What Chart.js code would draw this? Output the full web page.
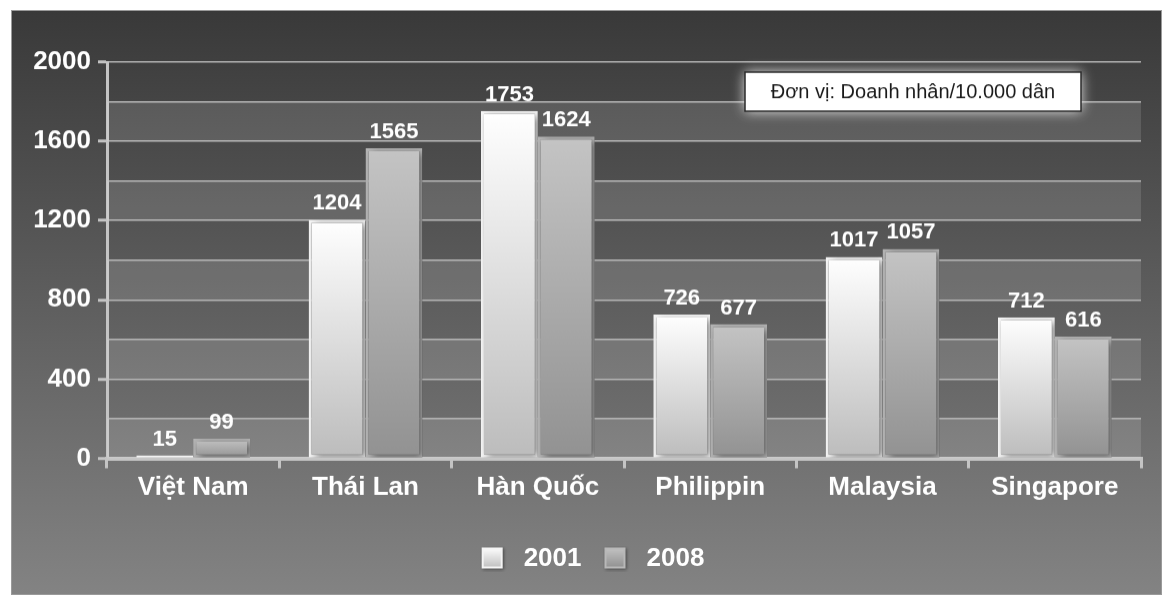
<!DOCTYPE html>
<html>
<head>
<meta charset="utf-8">
<script src="https://cdn.jsdelivr.net/npm/chart.js@4.4.1/dist/chart.umd.min.js"></script>
<style>
  body { margin: 0; background: #fff; }
  #wrap {
    position: absolute; left: 11px; top: 10px; width: 1151px; height: 585px;
    background: linear-gradient(#393939, #838383);
    box-shadow: inset 0 0 0 1px #9a9a9a;
  }
</style>
</head>
<body>
<div id="wrap"><canvas id="chart"></canvas></div>
<script>
const countries = ["Việt Nam", "Thái Lan", "Hàn Quốc", "Philippin", "Malaysia", "Singapore"];
const values2001 = [15, 1204, 1753, 726, 1017, 712];
const values2008 = [99, 1565, 1624, 677, 1057, 616];
const yearLabels = ["2001", "2008"];
const unitNote = "Đơn vị: Doanh nhân/10.000 dân";

const fontFamily = "'Liberation Sans', Arial, sans-serif";

// per-bar vertical gradient
const barGradient = (topColor, bottomColor) => (context) => {
  const chart = context.chart;
  const yScale = chart.scales.y;
  if (!yScale || !chart.chartArea) return topColor;
  const value = context.raw;
  const top = yScale.getPixelForValue(value);
  const base = yScale.getPixelForValue(0);
  if (!(base - top > 1)) return topColor;
  const grad = chart.ctx.createLinearGradient(0, top, 0, base);
  grad.addColorStop(0, topColor);
  grad.addColorStop(1, bottomColor);
  return grad;
};

// legend swatch: square on the left, empty room on the right for the gap
const makeSwatch = (topColor, bottomColor, border) => {
  const c = document.createElement("canvas");
  c.width = 31;
  c.height = 26;
  const g = c.getContext("2d");
  g.shadowColor = "rgba(0,0,0,0.45)";
  g.shadowBlur = 3;
  g.shadowOffsetX = 1;
  g.shadowOffsetY = 1;
  const grad = g.createLinearGradient(0, 2, 0, 23);
  grad.addColorStop(0, topColor);
  grad.addColorStop(1, bottomColor);
  g.fillStyle = grad;
  g.fillRect(2, 2, 21, 21);
  g.shadowColor = "transparent";
  g.strokeStyle = border;
  g.lineWidth = 2;
  g.strokeRect(3, 3, 19, 19);
  return c;
};

const swatches = [
  makeSwatch("#ffffff", "#bdbdbd", "#f4f4f4"),
  makeSwatch("#c4c4c4", "#8f8f8f", "#b8b8b8"),
];

const bandsPlugin = {
  id: "bands",
  beforeDatasetsDraw(chart) {
    const { ctx, chartArea, scales } = chart;
    ctx.save();
    ctx.fillStyle = "rgba(255,255,255,0.12)";
    for (let v = 0; v < 2000; v += 400) {
      const y1 = scales.y.getPixelForValue(v + 200);
      const y0 = scales.y.getPixelForValue(v);
      ctx.fillRect(chartArea.left, y1, chartArea.right - chartArea.left, y0 - y1);
    }
    ctx.restore();
  },
};

const shadowPlugin = {
  id: "barShadow",
  beforeDatasetsDraw(chart) {
    const ctx = chart.ctx;
    ctx.save();
    ctx.shadowColor = "rgba(0,0,0,0.5)";
    ctx.shadowBlur = 7;
    ctx.shadowOffsetX = 3;
    ctx.shadowOffsetY = 2;
  },
  afterDatasetsDraw(chart) {
    chart.ctx.restore();
  },
};

const valueLabels = {
  id: "valueLabels",
  afterDatasetsDraw(chart) {
    const ctx = chart.ctx;
    ctx.save();
    ctx.font = "bold 22px " + fontFamily;
    ctx.fillStyle = "#ffffff";
    ctx.textAlign = "center";
    ctx.textBaseline = "alphabetic";
    chart.data.datasets.forEach((ds, i) => {
      chart.getDatasetMeta(i).data.forEach((bar, j) => {
        ctx.fillText(ds.data[j], bar.x, bar.y - 10);
      });
    });
    ctx.restore();
  },
};

const notePlugin = {
  id: "note",
  afterDraw(chart) {
    const { ctx, chartArea } = chart;
    const w = 336, h = 39;
    const x = chartArea.right - 60 - w;
    const y = chartArea.top + 10;
    ctx.save();
    ctx.shadowColor = "rgba(255,255,255,0.9)";
    ctx.shadowBlur = 12;
    ctx.fillStyle = "#ffffff";
    ctx.fillRect(x, y, w, h);
    ctx.shadowColor = "transparent";
    ctx.strokeStyle = "#2a2a2a";
    ctx.lineWidth = 1.5;
    ctx.strokeRect(x, y, w, h);
    ctx.fillStyle = "#1a1a1a";
    ctx.font = "20px " + fontFamily;
    ctx.textAlign = "center";
    ctx.textBaseline = "middle";
    ctx.fillText(unitNote, x + w / 2, y + h / 2 + 1);
    ctx.restore();
  },
};

// nudge the legend a bit to the right, like the original
const legendShift = {
  id: "legendShift",
  afterLayout(chart) {
    chart.legend.left += 16;
    chart.legend.right += 16;
  },
};

const ctx = document.getElementById("chart");

const myChart = new Chart(ctx, {
  type: "bar",
  data: {
    labels: countries,
    datasets: [
      {
        label: yearLabels[0],
        data: values2001,
        backgroundColor: barGradient("#ffffff", "#bcbcbc"),
        borderColor: "#f6f6f6",
        borderWidth: 3,
        borderSkipped: false,
      },
      {
        label: yearLabels[1],
        data: values2008,
        backgroundColor: barGradient("#c4c4c4", "#929292"),
        borderColor: "#b4b4b4",
        borderWidth: 3,
        borderSkipped: false,
      },
    ],
  },
  options: {
    responsive: false,
    animation: false,
    devicePixelRatio: 1,
    layout: { padding: { top: 52, right: 21, left: 0, bottom: 5 } },
    datasets: { bar: { categoryPercentage: 0.66, barPercentage: 1 } },
    plugins: {
      tooltip: { enabled: false },
      legend: {
        position: "bottom",
        labels: {
          usePointStyle: true,
          pointStyleWidth: 31,
          boxHeight: 26,
          padding: 21,
          color: "#ffffff",
          font: { family: fontFamily, size: 26, weight: "bold" },
          generateLabels: (chart) =>
            chart.data.datasets.map((ds, i) => ({
              text: ds.label,
              pointStyle: swatches[i],
              datasetIndex: i,
              hidden: false,
              fontColor: "#ffffff",
              lineWidth: 0,
            })),
        },
      },
    },
    scales: {
      x: {
        afterFit: (scale) => { scale.height = 66; },
        border: { color: "#c4c4c4", width: 4 },
        grid: {
          offset: true,
          drawOnChartArea: false,
          color: "#c4c4c4",
          lineWidth: 3,
          tickLength: 10,
        },
        ticks: {
          color: "#ffffff",
          padding: 4,
          font: { family: fontFamily, size: 26, weight: "bold" },
        },
      },
      y: {
        min: 0,
        max: 2000,
        afterFit: (scale) => { scale.width = 96; },
        border: { color: "#c4c4c4", width: 3 },
        grid: {
          color: "#b4b4b4",
          lineWidth: 1.5,
          tickLength: 9,
          tickColor: (c) => (c.tick && c.tick.value % 400 === 0 ? "#c4c4c4" : "transparent"),
          tickWidth: 3,
        },
        ticks: {
          stepSize: 200,
          color: "#ffffff",
          padding: 7,
          font: { family: fontFamily, size: 26, weight: "bold" },
          callback: (v) => (v % 400 === 0 ? v : ""),
        },
      },
    },
  },
  plugins: [bandsPlugin, shadowPlugin, valueLabels, notePlugin, legendShift],
});
myChart.resize(1151, 585);
</script>
</body>
</html>
